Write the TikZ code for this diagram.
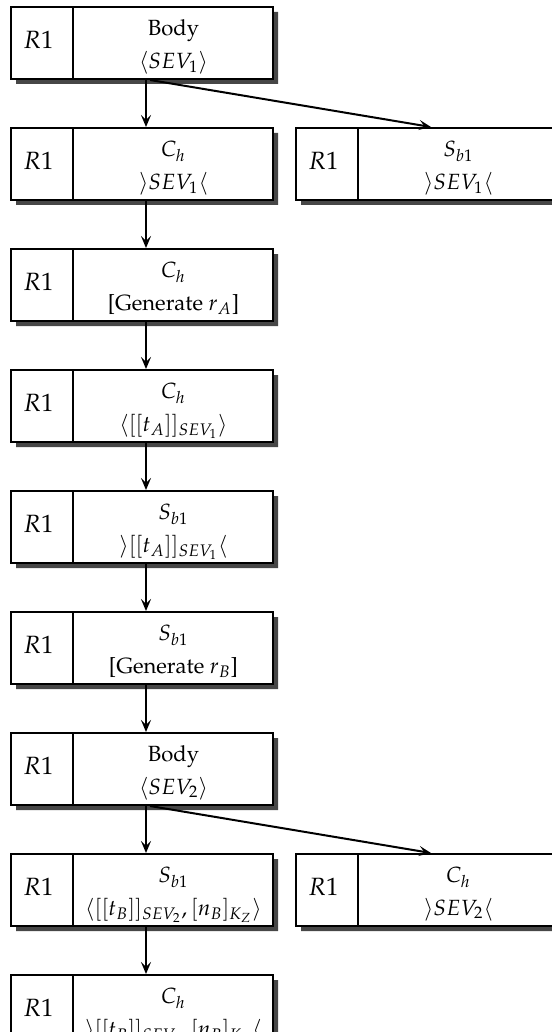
\documentclass[tikz,border=0pt]{standalone}
\usepackage[T1]{fontenc}
\usepackage{mathpazo}
\usepackage{tikz}
\usetikzlibrary{arrows.meta,positioning,shapes.multipart,shadows}
\definecolor{flowShadow}{HTML}{474747}
\newcommand{\flowtag}{\makebox[30.5pt]{\fontsize{12.5}{15}\selectfont
  \raisebox{1.5pt}[\height][\depth]{$R1$}\hspace{3pt}}}
\newcommand{\flowtext}[2]{\makebox[99.5pt]{\fontsize{11}{16.2}\selectfont
  \raisebox{-1.2pt}[\height][\depth]{\begin{tabular}{@{}c@{}}#1\\{}#2\end{tabular}}}}
\tikzset{
  flowbox/.style={rectangle split, rectangle split horizontal, rectangle split parts=2,
    rectangle split part align={center}, draw=black, fill=white, line width=1pt,
    inner xsep=0pt, inner ysep=0pt, minimum height=36pt,
    drop shadow={shadow xshift=2.5pt, shadow yshift=-2.5pt, fill=flowShadow, opacity=1}},
  flowarrow/.style={-{Stealth[length=6pt, width=5pt, inset=2.5pt]}, line width=1pt}
}

\begin{document}
\begin{tikzpicture}[x=0.5pt, y=-0.5pt, node distance=23.5pt]
    \useasboundingbox (0,0) rectangle (551,1032);

    % main column
    \node[flowbox] at (142,43) (body1)
      {\flowtag\nodepart{two}\flowtext{Body}{$\langle SEV_1\rangle$}};
    \node[flowbox, below=of body1] (chA)
      {\flowtag\nodepart{two}\flowtext{$C_h$}{$\rangle SEV_1\langle$}};
    \node[flowbox, below=of chA] (chGen)
      {\flowtag\nodepart{two}\flowtext{$C_h$}{[Generate $r_A$]}};
    \node[flowbox, below=of chGen] (chEnc)
      {\flowtag\nodepart{two}\flowtext{$C_h$}{$\langle [[t_A]]_{SEV_1}\rangle$}};
    \node[flowbox, below=of chEnc] (sbDec)
      {\flowtag\nodepart{two}\flowtext{$S_{b1}$}{$\rangle [[t_A]]_{SEV_1}\langle$}};
    \node[flowbox, below=of sbDec] (sbGen)
      {\flowtag\nodepart{two}\flowtext{$S_{b1}$}{[Generate $r_B$]}};
    \node[flowbox, below=of sbGen] (body2)
      {\flowtag\nodepart{two}\flowtext{Body}{$\langle SEV_2\rangle$}};
    \node[flowbox, below=of body2] (sbEnc)
      {\flowtag\nodepart{two}\flowtext{$S_{b1}$}{$\langle [[t_B]]_{SEV_2}, [n_B]_{K_Z}\rangle$}};
    \node[flowbox, below=of sbEnc] (chDec)
      {\flowtag\nodepart{two}\flowtext{$C_h$}{$\rangle [[t_B]]_{SEV_2}, [n_B]_{K_Z}\langle$}};

    % side branches
    \node[flowbox, right=10.5pt of chA] (sbA)
      {\flowtag\nodepart{two}\flowtext{$S_{b1}$}{$\rangle SEV_1\langle$}};
    \node[flowbox, right=10.5pt of sbEnc] (chB)
      {\flowtag\nodepart{two}\flowtext{$C_h$}{$\rangle SEV_2\langle$}};

    \draw[flowarrow] ([xshift=2pt]body1.south) -- ([xshift=2pt]chA.north);
    \draw[flowarrow] ([xshift=4pt]body1.south) -- ([xshift=2pt]sbA.north);
    \draw[flowarrow] ([xshift=2pt]chA.south) -- ([xshift=2pt]chGen.north);
    \draw[flowarrow] ([xshift=2pt]chGen.south) -- ([xshift=2pt]chEnc.north);
    \draw[flowarrow] ([xshift=2pt]chEnc.south) -- ([xshift=2pt]sbDec.north);
    \draw[flowarrow] ([xshift=2pt]sbDec.south) -- ([xshift=2pt]sbGen.north);
    \draw[flowarrow] ([xshift=2pt]sbGen.south) -- ([xshift=2pt]body2.north);
    \draw[flowarrow] ([xshift=2pt]body2.south) -- ([xshift=2pt]sbEnc.north);
    \draw[flowarrow] ([xshift=4pt]body2.south) -- ([xshift=2pt]chB.north);
    \draw[flowarrow] ([xshift=2pt]sbEnc.south) -- ([xshift=2pt]chDec.north);
  \end{tikzpicture}
\end{document}
